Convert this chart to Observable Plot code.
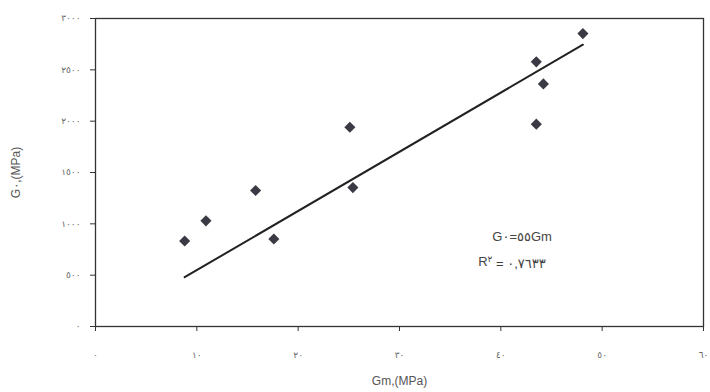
<!DOCTYPE html>
<html><head><meta charset="utf-8">
<script src="https://cdn.jsdelivr.net/npm/d3@7"></script>
<script src="https://cdn.jsdelivr.net/npm/@observablehq/plot@0.6"></script>
<style>body{margin:0;background:#fff} svg{display:block}</style>
</head><body><div id="chart"></div>
<script>
const gm = [8.8, 10.9, 15.8, 17.6, 25.1, 25.4, 43.5, 43.5, 44.2, 48.1];
const g0 = [833, 1029, 1324, 853, 1941, 1353, 2578, 1971, 2363, 2853];
const fitGm = [8.8, 48.1];
const fitG0 = [480, 2745];
const xTicks = [0, 10, 20, 30, 40, 50, 60];
const xTickLabels = ["٠", "١٠", "٢٠", "٣٠", "٤٠", "٥٠", "٦٠"];
const yTicks = [0, 500, 1000, 1500, 2000, 2500, 3000];
const yTickLabels = ["٠", "٥٠٠", "١٠٠٠", "١٥٠٠", "٢٠٠٠", "٢٥٠٠", "٣٠٠٠"];
const xTitle = "Gm,(MPa)";
const yTitle = "G٠,(MPa)";
const eqLabel = "G٠=٥٥Gm";
const r2Label = "R٢ = ٠,٧٦٣٣";
const annX = [42.1, 41.1];
const annY = [873, 627];

const points = gm.map((x, i) => ({x, y: g0[i]}));
const fit = fitGm.map((x, i) => ({x, y: fitG0[i]}));
const ann = [eqLabel, r2Label].map((t, i) => ({t, x: annX[i], y: annY[i]}));

const chart = Plot.plot({
  width: 710, height: 392,
  marginLeft: 95, marginRight: 7, marginTop: 18, marginBottom: 66,
  style: {fontFamily: "'DejaVu Sans', 'Liberation Sans', sans-serif", background: "#fff", color: "#555"},
  x: {domain: [0, 60]},
  y: {domain: [0, 3000]},
  marks: [
    Plot.axisX({ticks: xTicks, tickFormat: d => xTickLabels[xTicks.indexOf(d)], tickSize: 5, tickPadding: 20,
      fontSize: 9, fill: "#666", stroke: "#333", label: xTitle, labelAnchor: "center", labelOffset: 58, labelArrow: "none"}),
    Plot.axisY({ticks: yTicks, tickFormat: d => yTickLabels[yTicks.indexOf(d)], tickSize: 5, tickPadding: 10,
      fontSize: 9, fill: "#666", stroke: "#333", label: yTitle, labelAnchor: "center", labelOffset: 84, labelArrow: "none"}),
    Plot.frame({stroke: "#333", strokeWidth: 1.3}),
    Plot.line(fit, {x: "x", y: "y", stroke: "#222", strokeWidth: 2}),
    Plot.dot(points, {x: "x", y: "y", symbol: "diamond2", r: 5, fill: "#3a3a44", stroke: "none"}),
    Plot.text(ann, {x: "x", y: "y", text: "t", fontSize: 13, fill: "#444", fontFamily: "'Liberation Sans', 'DejaVu Sans', sans-serif"})
  ]
});
document.getElementById("chart").append(chart);
// axis title styling
d3.select(chart).selectAll("g[aria-label='x-axis label'] text, g[aria-label='y-axis label'] text")
  .style("font-size", "12px").style("font-family", "'Liberation Sans', sans-serif").attr("fill", "#555");
// keep left-to-right order of mixed Latin / Arabic-Indic text
d3.select(chart).selectAll("text")
  .filter(function(){ return this.textContent === eqLabel || this.textContent === r2Label || this.textContent === yTitle; })
  .style("direction", "ltr").style("unicode-bidi", "bidi-override");
// superscript for R²
d3.select(chart).selectAll("text").filter(function(){ return this.textContent === r2Label; })
  .each(function(){
    const el = d3.select(this);
    el.text(null);
    el.append("tspan").text("R");
    el.append("tspan").attr("dy", "-0.5em").attr("font-size", "9px").text("٢");
    el.append("tspan").attr("dy", "0.5em").text(" = ٠,٧٦٣٣");
  });
</script>
</body></html>
